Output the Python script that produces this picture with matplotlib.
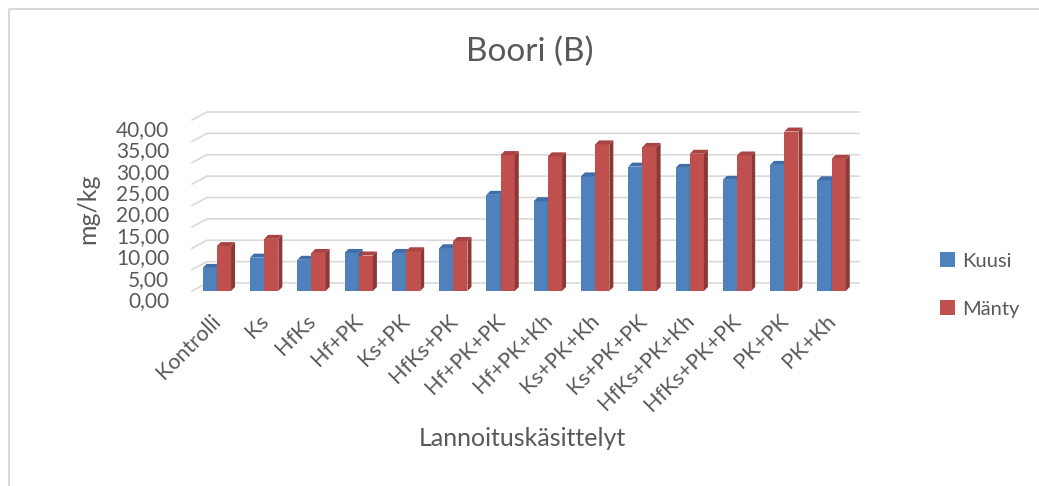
import matplotlib.pyplot as plt
from matplotlib.patches import Polygon, Rectangle
from matplotlib.lines import Line2D
from matplotlib.ticker import FuncFormatter
from matplotlib.transforms import ScaledTranslation

plt.rcParams['font.family'] = ['Lato', 'DejaVu Sans']

kasittelyt = ["Kontrolli", "Ks", "HfKs", "Hf+PK", "Ks+PK", "HfKs+PK", "Hf+PK+PK",
              "Hf+PK+Kh", "Ks+PK+Kh", "Ks+PK+PK", "HfKs+PK+Kh", "HfKs+PK+PK",
              "PK+PK", "PK+Kh"]
kuusi = [5.4, 7.8, 7.3, 8.9, 8.9, 10.0, 22.5, 21.0, 26.8, 29.1, 28.8, 26.0, 29.5, 25.9]
manty = [10.5, 12.2, 8.9, 8.3, 9.3, 11.7, 31.8, 31.5, 34.3, 33.7, 32.1, 31.7, 37.3, 30.9]
yticks = [0, 5, 10, 15, 20, 25, 30, 35, 40]

W, H = 1039, 486
fig = plt.figure(figsize=(W / 100, H / 100), dpi=100)
# kaavion reunat (vain vasen ja yläreuna näkyvät)
fig.lines.append(Line2D([8.5 / W, 8.5 / W, 1], [0, 1 - 9 / H, 1 - 9 / H],
                        transform=fig.transFigure, color="#d9d9d9", lw=1.5))

ax_l, ax_b, ax_w, ax_h = 197 / W, 195 / H, 662 / W, 171 / H
ax = fig.add_axes([ax_l, ax_b, ax_w, ax_h])
xlim = (-0.42, 13.58)
ylim = (0, 40)
ax.set_xlim(*xlim)
ax.set_ylim(*ylim)

# pikseleistä data-yksiköiksi
px_x = (xlim[1] - xlim[0]) / 662
px_y = (ylim[1] - ylim[0]) / 171

leveys = 0.3
syv_x, syv_y = 4 * px_x, 4 * px_y


def palkki(x0, h, vari, sivu, katto):
    x1 = x0 + leveys
    ax.add_patch(Rectangle((x0, 0), leveys, h, facecolor=vari, edgecolor="none", zorder=3))
    ax.add_patch(Polygon([(x1, 0), (x1, h), (x1 + syv_x, h + syv_y), (x1 + syv_x, syv_y)],
                         closed=True, facecolor=sivu, edgecolor="none", zorder=3))
    ax.add_patch(Polygon([(x0, h), (x1, h), (x1 + syv_x, h + syv_y), (x0 + syv_x, h + syv_y)],
                         closed=True, facecolor=katto, edgecolor="none", zorder=3))


for i in range(len(kasittelyt)):
    palkki(i - leveys, kuusi[i], "#4F81BD", "#385D8A", "#3F6EA8")
    palkki(i, manty[i], "#C0504D", "#8C3836", "#A94442")

# ruudukko takaseinällä
gx, gy = 10 * px_x, 8 * px_y
for v in yticks:
    ax.plot([xlim[0] - 5 * px_x, xlim[0] + gx, xlim[1]], [v, v + gy, v + gy],
            color="#d9d9d9", lw=1.2, zorder=1, clip_on=False)

for s in ax.spines.values():
    s.set_visible(False)
ax.set_yticks(yticks)
ax.yaxis.set_major_formatter(FuncFormatter(lambda v, p: f"{v:.2f}".replace(".", ",")))
ax.tick_params(axis="y", length=0, labelsize=15, labelcolor="#595959", pad=20)
for t in ax.get_yticklabels():
    t.set_va("top")
ax.set_xticks(range(len(kasittelyt)))
ax.set_xticklabels(kasittelyt, rotation=45, ha="right", rotation_mode="anchor")
ax.tick_params(axis="x", length=0, labelsize=15.5, labelcolor="#595959", pad=14)
siirto = ScaledTranslation(-6 / 100, 0, fig.dpi_scale_trans)
for t in ax.get_xticklabels():
    t.set_transform(t.get_transform() + siirto)

fig.text(88 / W, 1 - 209 / H, "mg/kg", fontsize=18, color="#595959",
         ha="center", va="center", rotation=90)
fig.text(522 / W, 1 - 438 / H, "Lannoituskäsittelyt", fontsize=18, color="#595959",
         ha="center", va="center")
fig.text(530 / W, 1 - 52 / H, "Boori (B)", fontsize=24, color="#595959",
         ha="center", va="center")

h1 = Rectangle((0, 0), 1, 1, facecolor="#4F81BD")
h2 = Rectangle((0, 0), 1, 1, facecolor="#C0504D")
fig.legend([h1, h2], ["Kuusi", "Mänty"], loc="center left", bbox_to_anchor=(922 / W, 1 - 285 / H),
           frameon=False, fontsize=14.5, labelspacing=1.5, handlelength=0.75, handleheight=0.75,
           handletextpad=0.35, labelcolor="#595959")

fig.savefig("out.png", dpi=100)
